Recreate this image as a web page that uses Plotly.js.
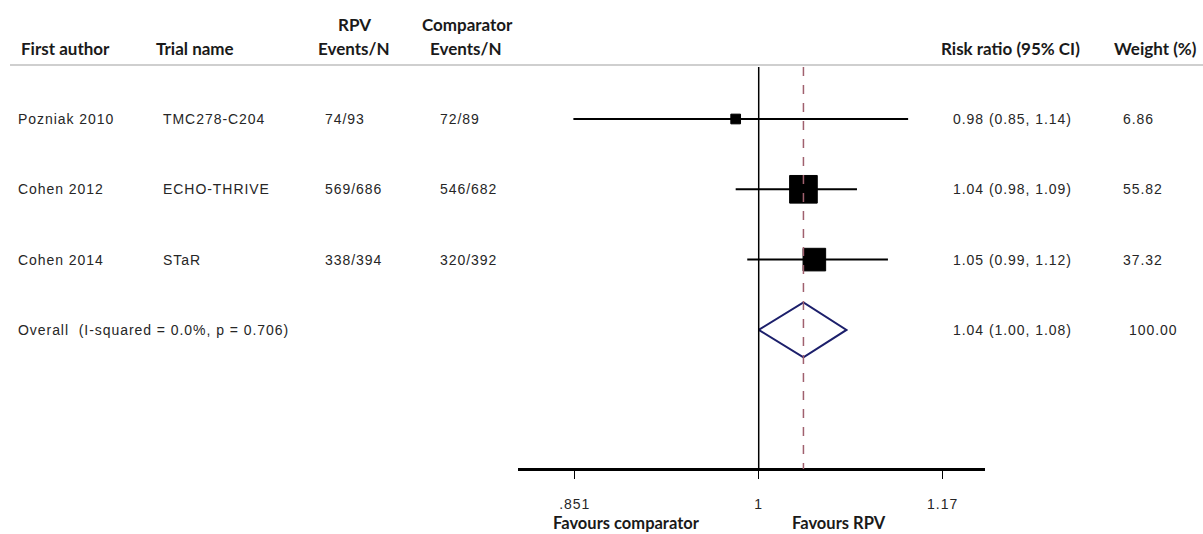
<!DOCTYPE html>
<html>
<head>
<meta charset="utf-8">
<script src="https://cdn.plot.ly/plotly-3.0.1.min.js"></script>
<style>
  html, body { margin: 0; padding: 0; background: #fff; }
  #chart { width: 1203px; height: 534px; }
  /* table body text is slightly tracked out (also applies to Plotly's measuring node) */
  text[style*="Liberation"] { letter-spacing: 0.95px; }
</style>
</head>
<body>
<div id="chart"></div>
<script>
// Study-level data for the rilpivirine (RPV) vs comparator meta-analysis
const authors    = ['Pozniak 2010', 'Cohen 2012', 'Cohen 2014'];
const trials     = ['TMC278-C204', 'ECHO-THRIVE', 'STaR'];
const rpvEvents  = ['74/93', '569/686', '338/394'];
const compEvents = ['72/89', '546/682', '320/392'];
const riskRatio  = [0.98, 1.04, 1.05];
const ciLower    = [0.85, 0.98, 0.99];
const ciUpper    = [1.14, 1.09, 1.12];
const weights    = [6.86, 55.82, 37.32];

// Pooled estimate
const overallLabel  = 'Overall  (I-squared = 0.0%, p = 0.706)';
const overallRR     = 1.04;
const overallLower  = 1.00;
const overallUpper  = 1.08;
const overallWeight = 100.00;

// Axis ticks (log scale, symmetric around 1)
const tickVals = [0.851, 1, 1.175];
const tickText = ['.851', '1', '1.17'];

const W = 1203, H = 534;
const px = x => x / W;            // pixel -> paper x
const py = y => 1 - y / H;        // pixel -> paper y

const bodyFont = {family: 'Liberation Sans', size: 14, color: '#262626'};
const headFont = {family: 'Lato', size: 17, color: '#1a1a1a', weight: 700};

const fmt2 = v => v.toFixed(2);
const rows = authors.map((_, i) => i);
const overallRow = authors.length;

const traces = [];

// Confidence interval whiskers
rows.forEach(i => {
  traces.push({
    type: 'scatter', mode: 'lines',
    x: [ciLower[i], ciUpper[i]], y: [i, i],
    line: {color: '#000', width: 2},
    hoverinfo: 'skip', showlegend: false
  });
});

// Point estimates: square area proportional to weight
traces.push({
  type: 'scatter', mode: 'markers',
  x: riskRatio, y: rows,
  opacity: 1,
  marker: {symbol: 'square', color: '#000000', opacity: 1,
           size: weights.map(w => 3.7 * Math.sqrt(w)),
           line: {width: 1, color: '#000000'}},
  hoverinfo: 'x', showlegend: false
});

// Pooled-estimate diamond
const dh = 0.39;
traces.push({
  type: 'scatter', mode: 'lines',
  x: [overallLower, overallRR, overallUpper, overallRR, overallLower],
  y: [overallRow, overallRow - dh, overallRow, overallRow + dh, overallRow],
  line: {color: '#1c1f6b', width: 2},
  hoverinfo: 'skip', showlegend: false
});

// Row geometry: row r sits at pixel 119 + 70.3 r
const rowPx = 70.3, row0 = 119;
const yTop = -row0 / rowPx, yBot = (H - row0) / rowPx;
const axisRow = (469 - row0) / rowPx;
const lineTopRow = (67 - row0) / rowPx;

const annotations = [];
const addText = (text, x, yRow, font, anchor) => annotations.push({
  text, x: px(x), xref: 'paper', y: yRow, yref: 'y',
  xanchor: anchor || 'left', yanchor: 'middle', showarrow: false, font
});

rows.forEach(i => {
  addText(authors[i], 16, i, bodyFont);
  addText(trials[i], 161, i, bodyFont);
  addText(rpvEvents[i], 323, i, bodyFont);
  addText(compEvents[i], 438, i, bodyFont);
  addText(`${fmt2(riskRatio[i])} (${fmt2(ciLower[i])}, ${fmt2(ciUpper[i])})`, 951, i, bodyFont);
  addText(fmt2(weights[i]), 1121, i, bodyFont);
});
addText(overallLabel, 16, overallRow, bodyFont);
addText(`${fmt2(overallRR)} (${fmt2(overallLower)}, ${fmt2(overallUpper)})`, 951, overallRow, bodyFont);
addText(fmt2(overallWeight), 1127, overallRow, bodyFont);

// Column headers
const addHead = (text, x, y, anchor, size) => annotations.push({
  text, x: px(x), xref: 'paper', y: py(y), yref: 'paper',
  xanchor: anchor, yanchor: 'middle', showarrow: false, borderpad: 0,
  font: Object.assign({}, headFont, size ? {size} : {})
});
addHead('First author', 20, 48, 'left');
addHead('Trial name', 155, 48, 'left');
addHead('RPV', 354, 24, 'center');
addHead('Events/N', 354, 48, 'center');
addHead('Comparator', 467, 24, 'center');
addHead('Events/N', 466, 48, 'center');
addHead('Risk ratio (95% CI)', 1010, 48, 'center');
addHead('Weight (%)', 1155, 48, 'center');
addHead('Favours comparator', 626, 523, 'center', 16.5);
addHead('Favours RPV', 839, 523, 'center', 16.5);

const shapes = [
  // header rule
  {type: 'line', xref: 'paper', yref: 'paper', x0: px(10), x1: 1, y0: py(65), y1: py(65),
   line: {color: '#cfcfcf', width: 2}},
  // line of no effect
  {type: 'line', xref: 'x', yref: 'y', x0: 1, x1: 1, y0: lineTopRow, y1: axisRow,
   line: {color: '#000', width: 1.5}},
  // pooled estimate reference line
  {type: 'line', xref: 'x', yref: 'y', x0: overallRR, x1: overallRR, y0: lineTopRow, y1: axisRow,
   line: {color: '#a0606e', width: 1.5, dash: 'dash'}}
];

const layout = {
  width: W, height: H,
  margin: {l: 0, r: 0, t: 0, b: 0},
  paper_bgcolor: '#fff', plot_bgcolor: 'rgba(0,0,0,0)',
  showlegend: false,
  xaxis: {
    type: 'log',
    domain: [px(518), px(985)],
    range: [Math.log10(0.8097), Math.log10(1.2195)],
    anchor: 'free', position: py(469),
    showline: true, linecolor: '#000', linewidth: 2.5,
    ticks: 'outside', ticklen: 8, tickwidth: 1.5, tickcolor: '#000',
    tickvals: tickVals, ticktext: tickText,
    ticklabelstandoff: 14,
    tickfont: bodyFont,
    showgrid: false, zeroline: false, fixedrange: true
  },
  yaxis: {
    domain: [0, 1],
    range: [yBot, yTop],
    visible: false, showgrid: false, zeroline: false, fixedrange: true
  },
  annotations, shapes
};

Plotly.newPlot('chart', traces, layout, {displayModeBar: false, staticPlot: true});
</script>
</body>
</html>
